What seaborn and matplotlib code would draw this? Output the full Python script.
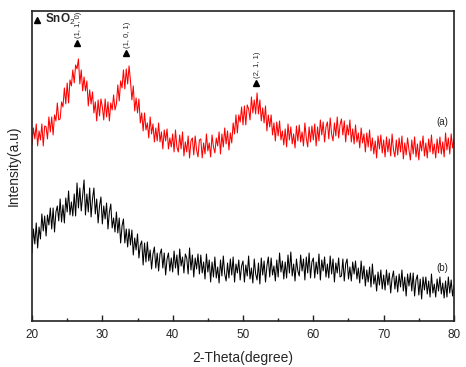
import numpy as np
import pandas as pd
import matplotlib
matplotlib.use("Agg")
import matplotlib.pyplot as plt
import seaborn as sns
from matplotlib.ticker import MultipleLocator

# 2-theta grid (degrees), 0.2 degree step
two_theta = np.round(np.arange(20.0, 80.0001, 0.2), 1)

# sample (a): SnO2, relative intensity
intensity_a = [
    176, 193, 182, 197, 175, 190, 181, 197, 175, 195,
    194, 182, 204, 189, 204, 186, 206, 200, 218, 201,
    202, 219, 214, 233, 217, 238, 218, 241, 235, 251,
    238, 256, 252, 262, 237, 251, 230, 244, 230, 240,
    215, 231, 217, 229, 208, 219, 200, 221, 205, 222,
    214, 201, 222, 204, 219, 200, 218, 211, 226, 211,
    217, 236, 220, 240, 233, 251, 232, 252, 237, 255,
    240, 221, 235, 210, 223, 208, 222, 198, 208, 190,
    208, 191, 198, 183, 204, 187, 197, 179, 193, 180,
    198, 179, 189, 172, 191, 180, 192, 172, 183, 174,
    187, 169, 191, 174, 169, 186, 172, 189, 165, 179,
    169, 185, 163, 180, 183, 166, 185, 171, 164, 181,
    182, 163, 178, 167, 187, 170, 178, 164, 186, 174,
    168, 183, 175, 189, 167, 187, 174, 193, 177, 190,
    171, 188, 178, 198, 187, 206, 188, 206, 199, 214,
    196, 215, 196, 216, 212, 201, 224, 208, 221, 207,
    228, 207, 221, 200, 213, 198, 215, 190, 206, 194,
    206, 186, 198, 180, 199, 185, 200, 181, 190, 176,
    192, 174, 197, 181, 194, 177, 187, 173, 195, 180,
    196, 179, 189, 175, 198, 183, 174, 194, 179, 195,
    181, 197, 175, 194, 180, 201, 186, 199, 179, 194,
    199, 182, 203, 187, 180, 198, 185, 204, 183, 196,
    202, 186, 200, 179, 196, 186, 201, 179, 192, 177,
    196, 179, 188, 173, 193, 178, 187, 169, 188, 174,
    191, 170, 183, 167, 180, 163, 185, 172, 186, 168,
    181, 164, 184, 169, 182, 165, 187, 171, 164, 181,
    166, 183, 169, 185, 162, 178, 166, 183, 171, 161,
    181, 167, 184, 164, 177, 161, 180, 170, 185, 165,
    178, 163, 182, 169, 186, 167, 177, 163, 182, 168,
    184, 167, 179, 164, 188, 171, 183, 167, 187, 173,
    182,
]

# sample (b): amorphous, relative intensity
intensity_b = [
    68, 92, 77, 98, 73, 94, 82, 107, 90, 105,
    85, 106, 96, 113, 92, 113, 89, 109, 115, 100,
    122, 99, 116, 98, 123, 109, 130, 106, 119, 105,
    127, 105, 138, 113, 133, 110, 126, 141, 106, 127,
    109, 133, 104, 122, 133, 107, 122, 98, 115, 124,
    97, 115, 102, 118, 92, 109, 117, 93, 103, 89,
    109, 88, 103, 78, 95, 102, 78, 92, 74, 92,
    76, 91, 66, 83, 71, 87, 63, 76, 80, 56,
    78, 59, 79, 60, 71, 52, 67, 74, 53, 68,
    50, 67, 72, 53, 68, 46, 62, 68, 50, 63,
    49, 70, 53, 66, 46, 72, 55, 64, 48, 67,
    63, 47, 73, 51, 66, 44, 63, 52, 67, 47,
    66, 48, 59, 42, 67, 49, 61, 39, 59, 44,
    64, 43, 54, 38, 61, 45, 65, 47, 40, 58,
    43, 62, 46, 64, 39, 57, 48, 61, 41, 55,
    60, 39, 56, 45, 65, 42, 53, 38, 62, 47,
    41, 58, 37, 63, 46, 60, 39, 55, 64, 44,
    63, 46, 55, 40, 61, 44, 68, 49, 60, 42,
    59, 43, 66, 48, 69, 45, 57, 40, 62, 50,
    45, 66, 50, 62, 41, 64, 48, 68, 43, 59,
    63, 43, 59, 47, 67, 41, 61, 50, 64, 44,
    57, 43, 65, 47, 62, 39, 58, 48, 63, 44,
    45, 62, 40, 57, 62, 42, 54, 40, 59, 47,
    60, 42, 53, 38, 60, 42, 55, 35, 51, 39,
    54, 34, 57, 37, 46, 30, 49, 36, 51, 32,
    46, 31, 51, 36, 48, 28, 43, 50, 32, 45,
    29, 47, 34, 51, 30, 44, 25, 47, 35, 48,
    30, 48, 25, 41, 46, 26, 42, 22, 44, 31,
    44, 27, 40, 24, 47, 28, 37, 24, 42, 30,
    44, 27, 38, 23, 40, 24, 44, 28, 41, 25,
    36,
]

# peak annotations (SnO2)
peak_labels = ["(1, 1, 0)", "(1, 0, 1)", "(2, 1, 1)"]
peak_pos = [26.4, 33.3, 51.85]
peak_marker_y = [278, 268, 238]

curve_labels = ["(a)", "(b)"]
xticks = [20, 30, 40, 50, 60, 70, 80]

sns.set_style("white")
plt.rcParams["font.family"] = ["Liberation Sans", "DejaVu Sans"]
plt.rcParams["mathtext.fontset"] = "custom"
plt.rcParams["mathtext.rm"] = "Liberation Sans"
plt.rcParams["mathtext.bf"] = "Liberation Sans:bold"

df = pd.concat([
    pd.DataFrame({"two_theta": two_theta, "intensity": intensity_a, "sample": "a"}),
    pd.DataFrame({"two_theta": two_theta, "intensity": intensity_b, "sample": "b"}),
])

fig = plt.figure(figsize=(4.66, 3.67), dpi=100)
ax = fig.add_axes([0.0687, 0.1253, 0.9055, 0.845])

sns.lineplot(data=df, x="two_theta", y="intensity", hue="sample",
             palette={"a": "#ff0000", "b": "#000000"}, estimator=None,
             sort=False, lw=0.75, legend=False, ax=ax)

ax.set_xlim(20, 80)
ax.set_ylim(0, 310)
ax.set_xticks(xticks)
ax.set_xticklabels([str(t) for t in xticks], fontsize=8.5)
ax.xaxis.set_minor_locator(MultipleLocator(5))
ax.set_yticks([])
ax.tick_params(axis="x", which="major", direction="in", length=4, width=1,
               bottom=True, top=False, pad=6, color="#222222")
ax.tick_params(axis="x", which="minor", direction="in", length=2.5, width=1,
               bottom=True, top=False, color="#222222")
for s in ax.spines.values():
    s.set_linewidth(1.2)
    s.set_color("#222222")

ax.set_xlabel("2-Theta(degree)", fontsize=10, labelpad=7)
ax.set_ylabel("Intensity(a.u)", fontsize=10, labelpad=8)

# peak markers and labels
ax.plot(peak_pos, peak_marker_y, linestyle="none", marker="^",
        color="black", markersize=5)
for x, y, lab in zip(peak_pos, peak_marker_y, peak_labels):
    ax.text(x + 0.25, y + 5, lab, rotation=90, ha="center", va="bottom",
            fontsize=5.5, color="#222222")

# legend-like key
ax.plot([0.013], [0.972], transform=ax.transAxes, marker="^", color="black",
        markersize=5, linestyle="none", clip_on=False)
ax.text(0.03, 0.972, r"SnO$_2$", transform=ax.transAxes, fontsize=8.5,
        fontweight="bold", va="center", ha="left")

ax.text(78.3, 199, curve_labels[0], fontsize=7, ha="center", va="center",
        color="#222222")
ax.text(78.4, 53, curve_labels[1], fontsize=7, ha="center", va="center",
        color="#222222")

fig.savefig("out.png", dpi=100)
